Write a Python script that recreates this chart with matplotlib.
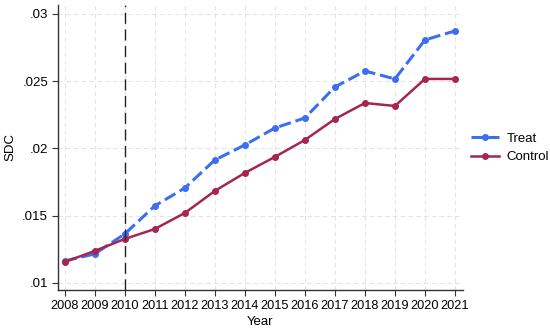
import matplotlib
matplotlib.use("Agg")
import matplotlib.pyplot as plt

plt.rcParams['font.family'] = ['Liberation Sans', 'DejaVu Sans']

years = [2008, 2009, 2010, 2011, 2012, 2013, 2014, 2015, 2016, 2017, 2018, 2019, 2020, 2021]
treat = [0.01164, 0.01216, 0.01364, 0.01573, 0.01706, 0.01914, 0.02026, 0.02152,
         0.02227, 0.02457, 0.02576, 0.02517, 0.02807, 0.02874]
control = [0.01156, 0.01238, 0.01327, 0.01401, 0.01520, 0.01684, 0.01818, 0.01937,
           0.02063, 0.02219, 0.02338, 0.02316, 0.02517, 0.02517]
yticks = [0.01, 0.015, 0.02, 0.025, 0.03]
yticklabels = ['.01', '.015', '.02', '.025', '.03']

fig = plt.figure(figsize=(5.5, 3.31), dpi=100)
ax = fig.add_axes([0.105, 0.124, 0.737, 0.861])

ax.plot(years, treat, color='#3b6ef0', lw=2.2, ls=(0, (4, 1.6)), marker='o', ms=4,
        label='Treat')
ax.plot(years, control, color='#a52650', lw=1.8, ls='-', marker='o', ms=4,
        label='Control')
ax.axvline(2010, color='#222222', lw=1.0, ls=(0, (8, 4)))

ax.set_xlim(2007.77, 2021.27)
ax.set_ylim(0.00948, 0.03067)
ax.set_xticks(years)
ax.set_xticklabels([str(y) for y in years], fontsize=9.2)
ax.set_yticks(yticks)
ax.set_yticklabels(yticklabels, fontsize=9.5)
ax.set_xlabel('Year', fontsize=9.5, labelpad=3)
ax.set_ylabel('SDC', fontsize=9.5, labelpad=4)

ax.grid(True, color='#e4e4e4', ls=(0, (4, 3)), lw=0.8)
ax.set_axisbelow(True)
for s in ['top', 'right']:
    ax.spines[s].set_visible(False)
for s in ['left', 'bottom']:
    ax.spines[s].set_color('#333333')
    ax.spines[s].set_linewidth(1.0)
ax.tick_params(direction='out', length=4, color='#333333', pad=3)

ax.legend(loc='center left', bbox_to_anchor=(471 / 550, 1 - 148 / 331),
          bbox_transform=fig.transFigure, frameon=False, fontsize=9.5,
          handlelength=2.1, handletextpad=0.6, labelspacing=0.45,
          borderaxespad=0, borderpad=0)

fig.savefig('out.png', dpi=100)
